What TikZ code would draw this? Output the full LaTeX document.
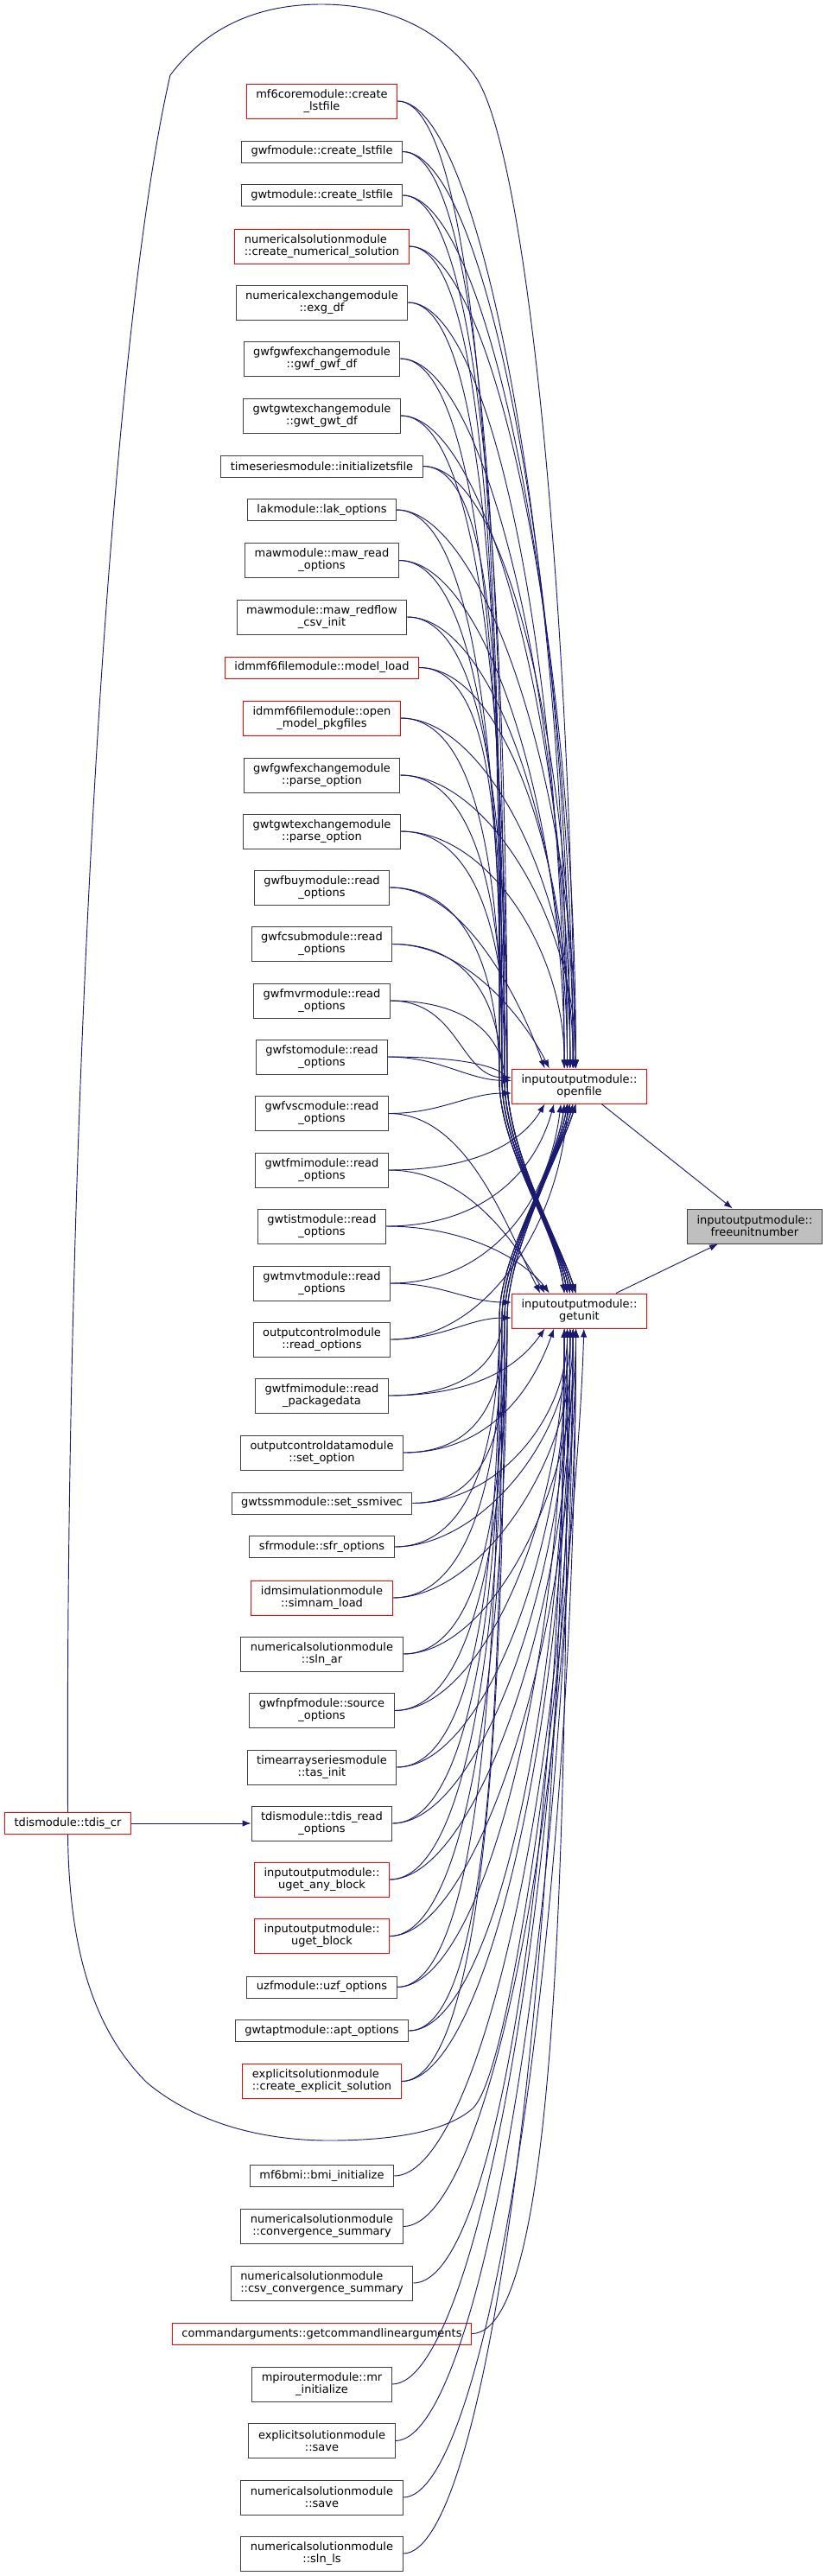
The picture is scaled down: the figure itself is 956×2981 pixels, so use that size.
\documentclass[tikz,border=0pt]{standalone}
\usepackage{fontspec}
\setmainfont{DejaVu Sans}
\usetikzlibrary{arrows.meta,calc}
\definecolor{edgeblue}{HTML}{191970}
\definecolor{boxgrey}{HTML}{404040}
\definecolor{selgrey}{HTML}{BFBFBF}
\tikzset{
  fn/.style={draw=boxgrey,fill=white,line width=0.75pt,inner xsep=8.3pt,inner ysep=0pt,
    minimum height=18.75pt,align=center,font=\fontsize{9.75}{10.5}\selectfont},
  fnred/.style={fn,draw=red},
  tall/.style={minimum height=30pt},
  call/.style={->,draw=edgeblue,line width=0.7pt},
}
\begin{document}
\begin{tikzpicture}[x=0.75pt,y=-0.75pt,>={Latex[length=7.5pt,width=5.5pt]}]
\useasboundingbox (0,0) rectangle (956,2981);
% callers
\node[fnred,tall] (mfcorelst) at (372.5,117) {mf6coremodule::create\\\_lstfile};
\node[fn] (gwflst) at (372.5,175.5) {gwfmodule::create\_lstfile};
\node[fn] (gwtlst) at (372.5,226) {gwtmodule::create\_lstfile};
\node[fnred,tall,align=left] (numsol) at (372.5,285) {numericalsolutionmodule\\::create\_numerical\_solution};
\node[fn,tall] (exgdf) at (372.5,350) {numericalexchangemodule\\::exg\_df};
\node[fn,tall] (gwfgwfdf) at (372.5,415) {gwfgwfexchangemodule\\::gwf\_gwf\_df};
\node[fn,tall] (gwtgwtdf) at (372.5,481) {gwtgwtexchangemodule\\::gwt\_gwt\_df};
\node[fn] (tsinit) at (372.5,539.5) {timeseriesmodule::initializetsfile};
\node[fn] (lakopt) at (372.5,590) {lakmodule::lak\_options};
\node[fn,tall] (mawopt) at (372.5,648.5) {mawmodule::maw\_read\\\_options};
\node[fn,tall] (mawcsv) at (372.5,714) {mawmodule::maw\_redflow\\\_csv\_init};
\node[fnred] (modelload) at (372.5,772.5) {idmmf6filemodule::model\_load};
\node[fnred,tall] (openpkg) at (372.5,831) {idmmf6filemodule::open\\\_model\_pkgfiles};
\node[fn,tall] (gwfparse) at (372.5,897) {gwfgwfexchangemodule\\::parse\_option};
\node[fn,tall] (gwtparse) at (372.5,962) {gwtgwtexchangemodule\\::parse\_option};
\node[fn,tall] (buyopt) at (372.5,1027) {gwfbuymodule::read\\\_options};
\node[fn,tall] (csubopt) at (372.5,1092.5) {gwfcsubmodule::read\\\_options};
\node[fn,tall] (mvropt) at (372.5,1158) {gwfmvrmodule::read\\\_options};
\node[fn,tall] (stoopt) at (372.5,1223) {gwfstomodule::read\\\_options};
\node[fn,tall] (vscopt) at (372.5,1288.5) {gwfvscmodule::read\\\_options};
\node[fn,tall] (fmiopt) at (372.5,1354) {gwtfmimodule::read\\\_options};
\node[fn,tall] (istopt) at (372.5,1419) {gwtistmodule::read\\\_options};
\node[fn,tall] (mvtopt) at (372.5,1485) {gwtmvtmodule::read\\\_options};
\node[fn,tall] (ocopt) at (372.5,1550) {outputcontrolmodule\\::read\_options};
\node[fn,tall] (fmipkg) at (372.5,1615) {gwtfmimodule::read\\\_packagedata};
\node[fn,tall] (ocdset) at (372.5,1681) {outputcontroldatamodule\\::set\_option};
\node[fn] (ssmivec) at (372.5,1739.5) {gwtssmmodule::set\_ssmivec};
\node[fn] (sfropt) at (372.5,1790) {sfrmodule::sfr\_options};
\node[fnred,tall] (simnam) at (372.5,1849) {idmsimulationmodule\\::simnam\_load};
\node[fn,tall] (slnar) at (372.5,1914) {numericalsolutionmodule\\::sln\_ar};
\node[fn,tall] (npfopt) at (372.5,1979.5) {gwfnpfmodule::source\\\_options};
\node[fn,tall] (tasinit) at (372.5,2045) {timearrayseriesmodule\\::tas\_init};
\node[fn,tall] (tdisopt) at (372.5,2110) {tdismodule::tdis\_read\\\_options};
\node[fnred,tall] (ugetany) at (372.5,2175) {inputoutputmodule::\\uget\_any\_block};
\node[fnred,tall] (ugetblk) at (372.5,2240.5) {inputoutputmodule::\\uget\_block};
\node[fn] (uzfopt) at (372.5,2299.5) {uzfmodule::uzf\_options};
\node[fn] (aptopt) at (372.5,2350) {gwtaptmodule::apt\_options};
\node[fnred,tall,align=left] (explsol) at (372.5,2408.5) {explicitsolutionmodule\\::create\_explicit\_solution};
\node[fn] (bmiinit) at (372.5,2518) {mf6bmi::bmi\_initialize};
\node[fn,tall] (convsum) at (372.5,2576.5) {numericalsolutionmodule\\::convergence\_summary};
\node[fn,tall,align=left] (csvconv) at (372.5,2642) {numericalsolutionmodule\\::csv\_convergence\_summary};
\node[fnred] (cmdargs) at (372.5,2700.5) {commandarguments::getcommandlinearguments};
\node[fn,tall] (mrinit) at (372.5,2759) {mpiroutermodule::mr\\\_initialize};
\node[fn,tall] (explsave) at (372.5,2824.5) {explicitsolutionmodule\\::save};
\node[fn,tall] (numsave) at (372.5,2890) {numericalsolutionmodule\\::save};
\node[fn,tall] (slnls) at (372.5,2955) {numericalsolutionmodule\\::sln\_ls};
\node[fnred] (tdiscr) at (78.5,2110) {tdismodule::tdis\_cr};
% callees
\node[fnred,tall] (openfile) at (670.5,1257) {inputoutputmodule::\\openfile};
\node[fnred,tall] (getunit) at (670.5,1517) {inputoutputmodule::\\getunit};
\node[fn,tall,fill=selgrey] (freeunit) at (873.5,1419) {inputoutputmodule::\\freeunitnumber};
% upper callers into openfile (from above)
\foreach \s/\y [count=\i] in {mfcorelst/117,gwflst/175.5,gwtlst/226,numsol/285,exgdf/350,gwfgwfdf/415,gwtgwtdf/481,tsinit/539.5,lakopt/590,mawopt/648.5,mawcsv/714,modelload/772.5,openpkg/831,gwfparse/897,gwtparse/962} {
  \pgfmathsetmacro\dd{0.5*(1237-\y)}
  \pgfmathsetmacro\ox{-13+mod(\i,5)*2.5}
  \draw[call] (\s.east) .. controls +(100,0) and +(0,-\dd) .. ([xshift=\ox pt]openfile.north);
}
% upper callers into getunit, past the left of openfile
\foreach \s/\y [count=\i] in {mfcorelst/117,gwflst/175.5,gwtlst/226,numsol/285,exgdf/350,gwfgwfdf/415,gwtgwtdf/481,tsinit/539.5,lakopt/590,mawopt/648.5,mawcsv/714,modelload/772.5,openpkg/831,gwfparse/897,gwtparse/962,buyopt/1027,csubopt/1092.5,mvropt/1158,stoopt/1223} {
  \pgfmathsetmacro\ox{-13+mod(\i,5)*2.5}
  \pgfmathsetmacro\wx{578+mod(\i,4)*3}
  \pgfmathsetmacro\wy{1250-0.45*(1250-\y)}
  \draw[call] (\s.east) .. controls +(100,0) and (\wx,\wy) .. (\wx,1250) .. controls (\wx,1330) and (645,1430) .. ([xshift=\ox pt]getunit.north);
}
% lower callers into openfile, past the left of getunit
\foreach \s/\y [count=\i] in {fmipkg/1615,ocdset/1681,ssmivec/1739.5,sfropt/1790,simnam/1849,slnar/1914,npfopt/1979.5,tasinit/2045,tdisopt/2110,ugetany/2175,ugetblk/2240.5,uzfopt/2299.5,aptopt/2350,explsol/2408.5} {
  \pgfmathsetmacro\ox{-13+mod(\i,5)*2.5}
  \pgfmathsetmacro\wx{578+mod(\i,4)*3}
  \pgfmathsetmacro\wy{1525+0.45*(\y-1525)}
  \draw[call] (\s.east) .. controls +(100,0) and (\wx,\wy) .. (\wx,1525) .. controls (\wx,1450) and (645,1345) .. ([xshift=\ox pt]openfile.south);
}
% lower callers into getunit (from below)
\foreach \s/\y [count=\i] in {ssmivec/1739.5,sfropt/1790,simnam/1849,slnar/1914,npfopt/1979.5,tasinit/2045,tdisopt/2110,ugetany/2175,ugetblk/2240.5,uzfopt/2299.5,aptopt/2350,explsol/2408.5,bmiinit/2518,convsum/2576.5,csvconv/2642,cmdargs/2700.5,mrinit/2759,explsave/2824.5,numsave/2890,slnls/2955} {
  \pgfmathsetmacro\dd{0.5*(\y-1537)}
  \pgfmathsetmacro\ox{-13+mod(\i,5)*2.5}
  \draw[call] (\s.east) .. controls +(100,0) and +(0,\dd) .. ([xshift=\ox pt]getunit.south);
}
% callers level with openfile / getunit
\draw[call] (buyopt.east) .. controls +(90,0) and +(-25,-70) .. ([xshift=-30pt]openfile.north);
\draw[call] (csubopt.east) .. controls +(90,0) and +(-25,-50) .. ([xshift=-26pt]openfile.north);
\draw[call] (mvropt.east) .. controls +(80,0) and +(-60,0) .. ([yshift=7.5pt]openfile.west);
\draw[call] (stoopt.east) .. controls +(60,0) and +(-50,0) .. ([yshift=5pt]openfile.west);
\draw[call] (vscopt.east) .. controls +(60,0) and +(-50,0) .. ([yshift=-6pt]openfile.west);
\draw[call] (fmiopt.east) .. controls +(90,0) and +(-30,50) .. ([xshift=-30pt]openfile.south);
\draw[call] (istopt.east) .. controls +(100,0) and +(-25,90) .. ([xshift=-22pt]openfile.south);
\draw[call] (mvtopt.east) .. controls +(110,0) and +(-15,120) .. ([xshift=-16pt]openfile.south);
\draw[call] (ocopt.east) .. controls +(110,0) and +(-10,140) .. ([xshift=-10pt]openfile.south);
\draw[call] (vscopt.east) .. controls +(90,0) and +(-40,-80) .. ([xshift=-34pt]getunit.north);
\draw[call] (fmiopt.east) .. controls +(90,0) and +(-35,-60) .. ([xshift=-30pt]getunit.north);
\draw[call] (istopt.east) .. controls +(90,0) and +(-30,-40) .. ([xshift=-26pt]getunit.north);
\draw[call] (mvtopt.east) .. controls +(60,0) and +(-50,0) .. ([yshift=7.5pt]getunit.west);
\draw[call] (ocopt.east) .. controls +(60,0) and +(-50,0) .. ([yshift=-6pt]getunit.west);
\draw[call] (fmipkg.east) .. controls +(90,0) and +(-35,50) .. ([xshift=-30pt]getunit.south);
\draw[call] (ocdset.east) .. controls +(100,0) and +(-25,70) .. ([xshift=-22pt]getunit.south);
% tdis_cr
\draw[call] (tdiscr) -- (tdisopt);
\draw[call] (tdiscr.north) .. controls (75,1300) and (125,400) .. (197,87) .. controls (240,30) and (300,5) .. (372,5) .. controls (450,5) and (510,35) .. (549,87) .. controls (610,170) and (660,700) .. ([xshift=-4pt]openfile.north);
\draw[call] (tdiscr.south) .. controls (80,2280) and (120,2360) .. (170,2410) .. controls (230,2460) and (310,2477) .. (381,2477) .. controls (450,2477) and (515,2468) .. (547,2440) .. controls (600,2390) and (668,1800) .. ([xshift=4pt]getunit.south);
% into freeunitnumber
\draw[call] (openfile) -- (freeunit);
\draw[call] (getunit) -- (freeunit);
\end{tikzpicture}
\end{document}
